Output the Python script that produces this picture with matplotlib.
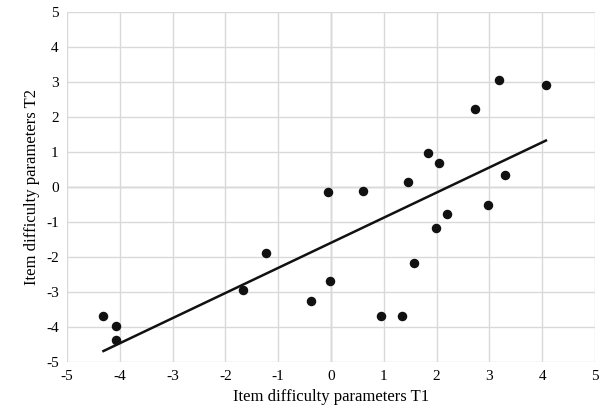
import numpy as np
import matplotlib.pyplot as plt

plt.rcParams['font.family'] = ['Liberation Serif', 'DejaVu Serif']
plt.rcParams['axes.unicode_minus'] = False

# item difficulty parameters, time 1 vs time 2
t1 = [-4.31, -4.07, -4.07, -1.67, -1.24, -0.38, -0.05, -0.02, 0.60, 0.95,
      1.34, 1.46, 1.58, 1.84, 1.99, 2.05, 2.20, 2.73, 2.98, 3.18, 3.30, 4.07]
t2 = [-3.68, -3.98, -4.38, -2.93, -1.89, -3.25, -0.15, -2.69, -0.12, -3.68,
      -3.68, 0.15, -2.16, 0.96, -1.16, 0.68, -0.78, 2.22, -0.50, 3.07, 0.35, 2.92]
ticks = list(range(-5, 6))

fig = plt.figure(figsize=(6, 4.17), dpi=100)
ax = fig.add_axes([0.1117, 0.1319, 0.88, 0.8393])

ax.set_xlim(-5, 5)
ax.set_ylim(-5, 5)
ax.set_xticks(ticks)
ax.set_yticks(ticks)
ax.grid(True, color='#d9d9d9', linewidth=1.0)
ax.axhline(0, color='#bfbfbf', linewidth=1.0, zorder=1)
ax.axvline(0, color='#bfbfbf', linewidth=1.0, zorder=1)
for s in ax.spines.values():
    s.set_visible(False)
ax.tick_params(length=0, labelsize=11, pad=6)

ax.scatter(t1, t2, s=34, color='#111111', zorder=3)

# linear trendline
k, b = np.polyfit(t1, t2, 1)
xs = np.array([min(t1), max(t1)])
ax.plot(xs, k * xs + b, color='#111111', linewidth=1.8, zorder=2)

ax.set_xlabel('Item difficulty parameters T1', fontsize=12, labelpad=4)
ax.set_ylabel('Item difficulty parameters T2', fontsize=12, labelpad=4)

fig.savefig('out.png', dpi=100)
